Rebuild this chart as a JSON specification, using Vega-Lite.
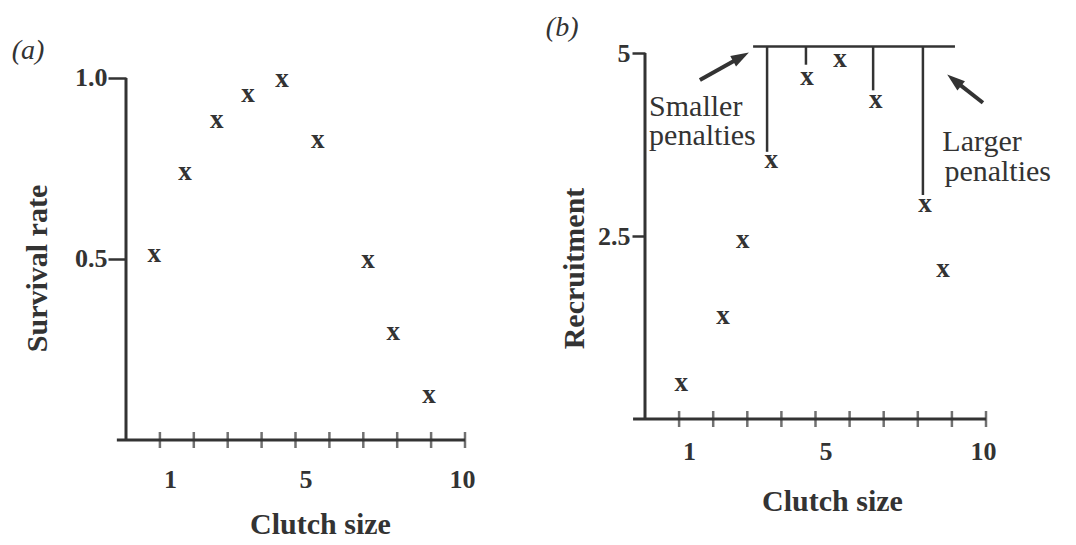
{
  "$schema": "https://vega.github.io/schema/vega-lite/v6.json",
  "autosize": {"type": "none"},
  "bounds": "flush",
  "padding": {"left": 126, "top": 53, "right": 950, "bottom": 492},
  "background": "#ffffff",
  "spacing": 180,
  "config": {
    "view": {"stroke": null},
    "axis": {
      "grid": false, "domain": false,
      "labelFont": "Liberation Serif", "titleFont": "Liberation Serif",
      "labelColor": "#333333", "titleColor": "#333333", "tickColor": "#333333",
      "labelFontSize": 26, "labelFontWeight": "bold",
      "titleFontSize": 30, "titleFontWeight": "bold"
    },
    "text": {"font": "Liberation Serif", "color": "#333333"}
  },
  "datasets": {
    "survival": [
      {"clutch": 0.83, "value": 0.506},
      {"clutch": 1.74, "value": 0.732},
      {"clutch": 2.68, "value": 0.876},
      {"clutch": 3.60, "value": 0.948},
      {"clutch": 4.60, "value": 0.989},
      {"clutch": 5.66, "value": 0.82},
      {"clutch": 7.14, "value": 0.489},
      {"clutch": 7.88, "value": 0.29},
      {"clutch": 8.94, "value": 0.116}
    ],
    "recruitment": [
      {"clutch": 1.06, "value": 0.45},
      {"clutch": 2.29, "value": 1.37},
      {"clutch": 2.87, "value": 2.40},
      {"clutch": 3.70, "value": 3.50},
      {"clutch": 4.75, "value": 4.63},
      {"clutch": 5.72, "value": 4.88},
      {"clutch": 6.77, "value": 4.32},
      {"clutch": 8.21, "value": 2.90},
      {"clutch": 8.74, "value": 2.01}
    ],
    "axisA": [
      {"clutch": -0.27, "clutch2": 10, "value": 0, "value2": 0},
      {"clutch": 0, "clutch2": 0, "value": 0, "value2": 1}
    ],
    "axisB": [
      {"clutch": -0.35, "clutch2": 10, "value": 0, "value2": 0},
      {"clutch": 0, "clutch2": 0, "value": 0, "value2": 5}
    ],
    "ticks": [
      {"clutch": 1, "value": 0}, {"clutch": 2, "value": 0}, {"clutch": 3, "value": 0},
      {"clutch": 4, "value": 0}, {"clutch": 5, "value": 0}, {"clutch": 6, "value": 0},
      {"clutch": 7, "value": 0}, {"clutch": 8, "value": 0}, {"clutch": 9, "value": 0},
      {"clutch": 10, "value": 0}
    ],
    "penalty": [
      {"clutch": 3.17, "clutch2": 9.09, "value": 5.09, "value2": 5.09},
      {"clutch": 3.58, "clutch2": 3.58, "value": 5.09, "value2": 3.65},
      {"clutch": 4.72, "clutch2": 4.72, "value": 5.09, "value2": 4.84},
      {"clutch": 6.69, "clutch2": 6.69, "value": 5.09, "value2": 4.49},
      {"clutch": 8.15, "clutch2": 8.15, "value": 5.09, "value2": 3.06}
    ],
    "arrows": [
      {"arrow": "smaller", "clutch": 1.61, "value": 4.63, "clutch2": 2.79, "value2": 4.94},
      {"arrow": "larger", "clutch": 9.91, "value": 4.32, "clutch2": 9.09, "value2": 4.62}
    ],
    "notes": [
      {"note": "Smaller", "clutch": 0.12, "value": 4.26},
      {"note": "penalties", "clutch": 0.12, "value": 3.86},
      {"note": "Larger", "clutch": 8.72, "value": 3.79},
      {"note": "penalties", "clutch": 8.78, "value": 3.37}
    ],
    "panelA": [{"label": "(a)", "clutch": -2.89, "value": 1.075}],
    "panelB": [{"label": "(b)", "clutch": -2.43, "value": 5.34}]
  },
  "hconcat": [
    {
      "width": 339,
      "height": 387,
      "layer": [
        {
          "data": {"name": "axisA"},
          "mark": {"type": "rule", "color": "#333333", "strokeWidth": 3},
          "encoding": {
            "x": {"field": "clutch", "type": "quantitative",
                  "scale": {"domain": [0, 10], "nice": false, "zero": false},
                  "axis": {"values": [1, 5, 10], "ticks": false, "tickSize": 0, "labelPadding": 26, "labelOffset": 10,
                           "title": "Clutch size", "titleX": 194, "titleY": 93, "titleBaseline": "alphabetic", "titleAlign": "center"}},
            "x2": {"field": "clutch2"},
            "y": {"field": "value", "type": "quantitative",
                  "scale": {"domain": [0, 1.069], "nice": false, "zero": false},
                  "axis": {"values": [0.5, 1], "format": ".1f", "tickSize": 18, "tickWidth": 2.5, "labelPadding": 1,
                           "title": "Survival rate", "titleAngle": 270, "titleX": -80, "titleY": 215,
                           "titleBaseline": "alphabetic", "titleAlign": "center"}},
            "y2": {"field": "value2"}
          }
        },
        {
          "data": {"name": "ticks"},
          "mark": {"type": "tick", "orient": "vertical", "size": 16, "thickness": 2.5, "color": "#333333"},
          "encoding": {
            "x": {"field": "clutch", "type": "quantitative"},
            "y": {"field": "value", "type": "quantitative"}
          }
        },
        {
          "data": {"name": "survival"},
          "mark": {"type": "text", "text": "x", "fontSize": 27, "fontWeight": "bold", "baseline": "middle", "align": "center", "dy": -3},
          "encoding": {
            "x": {"field": "clutch", "type": "quantitative"},
            "y": {"field": "value", "type": "quantitative"}
          }
        },
        {
          "data": {"name": "panelA"},
          "mark": {"type": "text", "fontSize": 28, "fontStyle": "italic", "baseline": "middle", "align": "center"},
          "encoding": {
            "x": {"field": "clutch", "type": "quantitative"},
            "y": {"field": "value", "type": "quantitative"},
            "text": {"field": "label"}
          }
        }
      ]
    },
    {
      "width": 341,
      "height": 366,
      "layer": [
        {
          "data": {"name": "axisB"},
          "mark": {"type": "rule", "color": "#333333", "strokeWidth": 3},
          "encoding": {
            "x": {"field": "clutch", "type": "quantitative",
                  "scale": {"domain": [0, 10], "nice": false, "zero": false},
                  "axis": {"values": [1, 5, 10], "ticks": false, "tickSize": 0, "labelPadding": 19, "labelOffset": 10,
                           "title": "Clutch size", "titleX": 187, "titleY": 91, "titleBaseline": "alphabetic", "titleAlign": "center"}},
            "x2": {"field": "clutch2"},
            "y": {"field": "value", "type": "quantitative",
                  "scale": {"domain": [0, 5], "nice": false, "zero": false},
                  "axis": {"values": [2.5, 5], "format": "~g", "tickSize": 13, "tickWidth": 2.5, "labelPadding": 2,
                           "title": "Recruitment", "titleAngle": 270, "titleX": -62, "titleY": 215,
                           "titleBaseline": "alphabetic", "titleAlign": "center"}},
            "y2": {"field": "value2"}
          }
        },
        {
          "data": {"name": "ticks"},
          "mark": {"type": "tick", "orient": "vertical", "size": 16, "thickness": 2.5, "color": "#333333"},
          "encoding": {
            "x": {"field": "clutch", "type": "quantitative"},
            "y": {"field": "value", "type": "quantitative"}
          }
        },
        {
          "data": {"name": "penalty"},
          "mark": {"type": "rule", "color": "#333333", "strokeWidth": 2.5},
          "encoding": {
            "x": {"field": "clutch", "type": "quantitative"},
            "x2": {"field": "clutch2"},
            "y": {"field": "value", "type": "quantitative"},
            "y2": {"field": "value2"}
          }
        },
        {
          "data": {"name": "arrows"},
          "mark": {"type": "rule", "color": "#333333", "strokeWidth": 4},
          "encoding": {
            "x": {"field": "clutch", "type": "quantitative"},
            "x2": {"field": "clutch2"},
            "y": {"field": "value", "type": "quantitative"},
            "y2": {"field": "value2"}
          }
        },
        {
          "data": {"name": "arrows"},
          "transform": [{"filter": "datum.arrow === 'smaller'"}],
          "mark": {"type": "point", "shape": "M0,-1L0.6,0.8L-0.6,0.8Z", "size": 400, "filled": true, "opacity": 1, "color": "#333333", "angle": 61},
          "encoding": {
            "x": {"field": "clutch2", "type": "quantitative"},
            "y": {"field": "value2", "type": "quantitative"}
          }
        },
        {
          "data": {"name": "arrows"},
          "transform": [{"filter": "datum.arrow === 'larger'"}],
          "mark": {"type": "point", "shape": "M0,-1L0.6,0.8L-0.6,0.8Z", "size": 400, "filled": true, "opacity": 1, "color": "#333333", "angle": 309},
          "encoding": {
            "x": {"field": "clutch2", "type": "quantitative"},
            "y": {"field": "value2", "type": "quantitative"}
          }
        },
        {
          "data": {"name": "recruitment"},
          "mark": {"type": "text", "text": "x", "fontSize": 27, "fontWeight": "bold", "baseline": "middle", "align": "center", "dy": -3},
          "encoding": {
            "x": {"field": "clutch", "type": "quantitative"},
            "y": {"field": "value", "type": "quantitative"}
          }
        },
        {
          "data": {"name": "notes"},
          "mark": {"type": "text", "fontSize": 30, "baseline": "middle", "align": "left"},
          "encoding": {
            "x": {"field": "clutch", "type": "quantitative"},
            "y": {"field": "value", "type": "quantitative"},
            "text": {"field": "note"}
          }
        },
        {
          "data": {"name": "panelB"},
          "mark": {"type": "text", "fontSize": 28, "fontStyle": "italic", "baseline": "middle", "align": "center"},
          "encoding": {
            "x": {"field": "clutch", "type": "quantitative"},
            "y": {"field": "value", "type": "quantitative"},
            "text": {"field": "label"}
          }
        }
      ]
    }
  ]
}
